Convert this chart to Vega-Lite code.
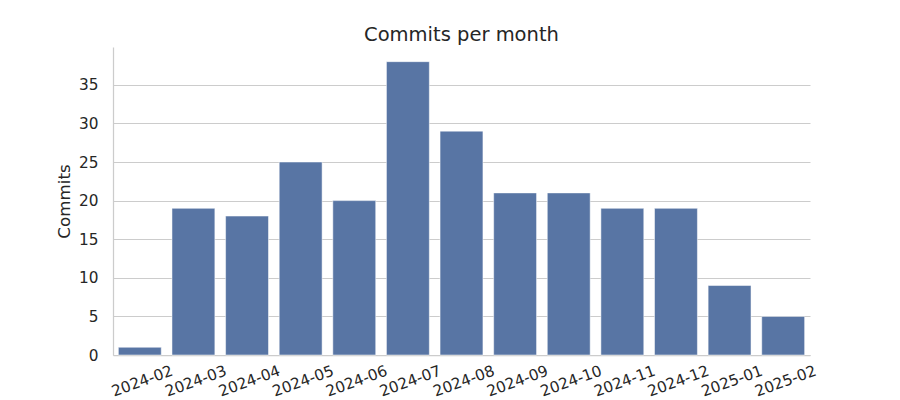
{
  "$schema": "https://vega.github.io/schema/vega-lite/v6.json",
  "width": 697,
  "height": 308,
  "autosize": {"type": "none"},
  "padding": {"left": 113, "top": 47, "right": 90, "bottom": 45},
  "background": "white",
  "title": {"text": "Commits per month", "fontSize": 19.5, "font": "DejaVu Sans", "fontWeight": "normal", "color": "#262626", "offset": 2},
  "data": {"values": [
    {"month": "2024-02", "commits": 1},
    {"month": "2024-03", "commits": 19},
    {"month": "2024-04", "commits": 18},
    {"month": "2024-05", "commits": 25},
    {"month": "2024-06", "commits": 20},
    {"month": "2024-07", "commits": 38},
    {"month": "2024-08", "commits": 29},
    {"month": "2024-09", "commits": 21},
    {"month": "2024-10", "commits": 21},
    {"month": "2024-11", "commits": 19},
    {"month": "2024-12", "commits": 19},
    {"month": "2025-01", "commits": 9},
    {"month": "2025-02", "commits": 5}
  ]},
  "config": {
    "view": {"stroke": null},
    "axis": {"labelFont": "DejaVu Sans", "titleFont": "DejaVu Sans", "labelColor": "#262626", "titleColor": "#262626", "labelFontSize": 15.3, "titleFontSize": 16.7, "titleFontWeight": "normal", "domainColor": "#cccccc", "domainWidth": 1.25, "gridColor": "#cccccc", "ticks": false}
  },
  "mark": {"type": "bar", "color": "#5875a4", "stroke": "white", "strokeWidth": 0.5},
  "encoding": {
    "x": {"field": "month", "type": "ordinal", "sort": null, "title": null,
      "scale": {"paddingInner": 0.2, "paddingOuter": 0.1},
      "axis": {"labelAngle": -20, "labelAlign": "center", "labelBaseline": "top", "labelPadding": 19, "grid": false}},
    "y": {"field": "commits", "type": "quantitative", "title": "Commits",
      "scale": {"domain": [0, 39.9], "nice": false},
      "axis": {"values": [0, 5, 10, 15, 20, 25, 30, 35], "labelPadding": 15, "titlePadding": 5, "grid": true}}
  }
}
